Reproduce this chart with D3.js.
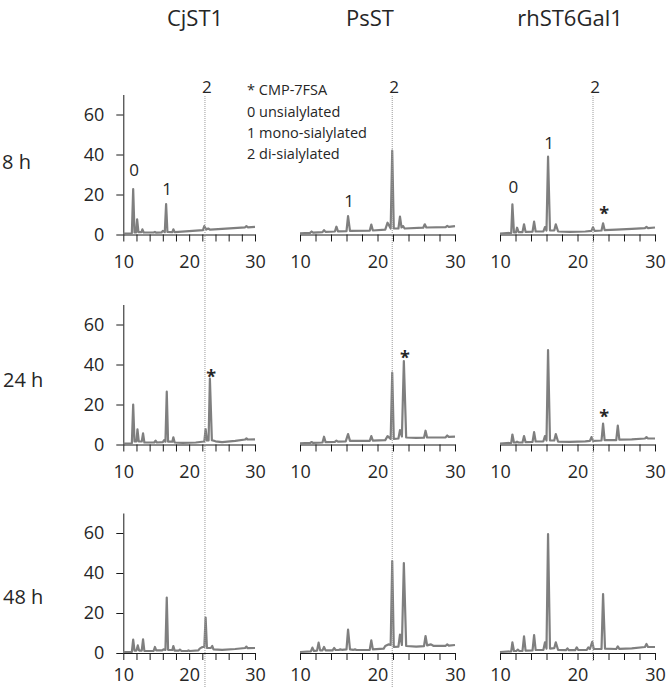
<!DOCTYPE html>
<html>
<head>
<meta charset="utf-8">
<script src="https://cdn.jsdelivr.net/npm/d3@7"></script>
<style>
  body { margin: 0; background: #fff; }
  svg { display: block; }
  text { font-family: 'Open Sans', sans-serif; fill: #262626; }
</style>
</head>
<body>
<svg id="chart" width="666" height="687"></svg>
<script>
// ---- data ----
const enzymes = ['CjST1', 'PsST', 'rhST6Gal1'];
const timepoints = ['8 h', '24 h', '48 h'];
const xTicks = [10, 12, 14, 16, 18, 20, 22, 24, 26, 28, 30];
const xLabels = [10, 20, 30];
const yTicks = [0, 20, 40, 60];
const diSialylatedTime = [22.4, 21.9, 22.0];
const legendLines = ['* CMP-7FSA', '0 unsialylated', '1 mono-sialylated', '2 di-sialylated'];

// traces: [retention time (min), signal]
const cjst1_8h = [[10,0.5],[11.3,0.6],[11.5,22.7],[11.7,1],[11.95,1],[12.1,7.6],[12.3,1.2],[12.75,1.2],[12.9,2.6],[13.1,1],[14.6,1],[14.8,1.3],[15,0.9],[15.8,1],[16.0,1.8],[16.3,1.2],[16.5,15.2],[16.7,1.3],[17.45,1.2],[17.6,2.6],[17.8,1.2],[20,1.7],[22.1,2.2],[22.3,4.2],[22.6,2.5],[22.9,3],[23.2,2.4],[25,2.8],[28.5,3.6],[28.7,4.2],[28.9,3.6],[30,3.8]];
const psst_8h = [[10,0.6],[11.3,0.8],[11.5,1.5],[11.7,0.9],[12.9,1.2],[13.1,2.2],[13.3,1.3],[14.5,1.5],[14.7,3.9],[14.9,1.6],[16.0,1.7],[16.2,9.2],[16.45,1.8],[19.0,1.9],[19.2,5],[19.4,2],[21.0,2.4],[21.3,5.9],[21.7,3],[21.9,41.9],[22.1,3],[22.7,3],[22.9,8.9],[23.1,3.5],[23.3,4.2],[23.5,3],[25.9,3.4],[26.1,5.1],[26.3,3.5],[28.8,3.7],[29,4.3],[29.2,3.8],[30,4.2]];
const rh_8h = [[10,0.5],[11.45,0.8],[11.6,15.1],[11.8,1],[12.05,1],[12.2,3.4],[12.4,1.2],[12.9,1.2],[13.1,5.1],[13.3,1.3],[14.2,1.4],[14.4,6.4],[14.6,1.5],[15.6,1.6],[15.8,3.7],[16.0,2],[16.2,38.9],[16.45,2],[17.0,2],[17.2,5.1],[17.5,1.5],[19,1.3],[21,1.5],[21.8,1.8],[22.0,3.6],[22.2,1.8],[23.1,2],[23.3,5.6],[23.5,2.2],[25,2.4],[27,2.8],[28.7,3.2],[28.9,3.8],[29.1,3.2],[30,3.5]];

const cjst1_24h = [[10,0.5],[11.3,0.6],[11.5,20],[11.7,1.5],[12,1.5],[12.15,7.6],[12.35,1.5],[12.8,1.5],[13.0,5.6],[13.2,1],[14.7,1],[14.9,1.9],[15.1,1],[16.0,1.2],[16.2,2.2],[16.4,1.4],[16.6,26.4],[16.8,1.4],[17.45,1.4],[17.6,3.6],[17.8,1],[19,0.8],[21,1],[22.3,1.5],[22.5,7.7],[22.7,2],[22.95,2],[23.15,32.9],[23.45,2.2],[24,1.6],[25,1.2],[27,1.8],[28.5,2.5],[28.7,3],[28.9,2.5],[30,2.6]];
const psst_24h = [[10,0.6],[11.3,0.8],[11.5,1.2],[11.7,0.8],[12.9,1],[13.1,3.9],[13.3,1.2],[14.5,1.3],[14.7,1.9],[14.9,1.4],[15.9,1.6],[16.2,5.2],[16.45,1.8],[19.0,1.8],[19.2,4.2],[19.4,1.9],[21.0,2.2],[21.3,4.2],[21.7,2.8],[21.9,35.9],[22.1,2.8],[22.7,3],[22.9,7.2],[23.15,4],[23.4,41.7],[23.7,3.5],[25,3.3],[26.0,3.4],[26.2,6.9],[26.4,3.5],[28.8,3.6],[29,4.5],[29.2,3.8],[30,3.9]];
const rh_24h = [[10,0.5],[11.45,0.8],[11.6,5],[11.8,1],[12.05,1],[12.2,1.4],[12.4,1],[12.9,1],[13.1,4.2],[13.3,1.2],[14.2,1.3],[14.4,6.2],[14.6,1.5],[15.6,1.6],[15.8,4.2],[16.0,2],[16.2,47.2],[16.45,2],[17.0,2],[17.2,5.2],[17.5,1.4],[19,1.3],[21,1.6],[21.6,1.8],[21.8,3.7],[22.0,1.8],[23.1,2],[23.3,10.5],[23.5,2.2],[25.0,2.2],[25.2,9.5],[25.4,2.4],[27,2.6],[28.7,3],[28.9,3.7],[29.1,3],[30,3]];

const cjst1_48h = [[10,0.5],[11.3,0.6],[11.5,6.7],[11.7,1.2],[12,1.2],[12.2,3.8],[12.4,1.2],[12.8,1.2],[13.0,6.8],[13.2,1],[14.6,1],[14.8,3],[15,1.3],[15.9,1.3],[16.1,1.8],[16.4,1.6],[16.6,27.7],[16.8,1.6],[17.45,1.5],[17.6,3.5],[17.8,1.2],[18.45,1.2],[18.6,1.7],[18.8,1.1],[19.75,1],[19.9,1.3],[20.1,1],[21.4,1.3],[21.6,2.2],[21.9,2.8],[22.1,3],[22.3,3],[22.5,17.7],[22.7,2.5],[23.3,2.5],[23.5,3.5],[23.7,1.8],[25,1.6],[27,2],[28.5,2.5],[28.7,3.2],[28.9,2.4],[30,2.5]];
const psst_48h = [[10,0.5],[11.4,0.8],[11.6,2.7],[11.8,1],[12.2,1.2],[12.4,5.2],[12.6,1.3],[12.9,1.3],[13.1,3],[13.3,1.3],[14.2,1.3],[14.4,2.5],[14.6,1.5],[15.0,1.5],[15.2,1.8],[15.4,1.6],[16.0,1.8],[16.2,11.7],[16.45,1.8],[16.9,1.6],[17.1,1.8],[17.3,1.5],[19.0,1.6],[19.2,6.3],[19.4,1.8],[20.8,2.2],[21.0,3.5],[21.4,4.3],[21.7,4],[21.9,46],[22.1,3],[22.7,3.2],[22.9,9.2],[23.15,4],[23.4,45],[23.7,3.5],[25,3.2],[26.0,3.4],[26.2,8.5],[26.4,3.8],[26.9,4.3],[27.2,3.6],[28.8,3.6],[29,4.3],[29.2,3.7],[30,4]];
const rh_48h = [[10,0.5],[11.45,0.8],[11.6,5.3],[11.8,1],[12.1,1],[12.3,1.7],[12.5,1],[12.9,1],[13.1,8.3],[13.3,1.2],[14.2,1.3],[14.4,9],[14.6,1.5],[15.6,1.6],[15.8,5.3],[16.0,2.2],[16.2,59.5],[16.45,2.2],[17.0,2.4],[17.2,5.3],[17.5,1.5],[18.5,1.4],[18.7,2.3],[18.9,1.4],[19.7,1.4],[19.9,2.8],[20.1,1.5],[21.2,1.6],[21.4,2.8],[21.6,2],[21.9,5.6],[22.1,2],[23.1,2],[23.3,29.5],[23.55,2.2],[25.0,2],[25.2,3.3],[25.4,2.1],[27,2.3],[28.7,3],[28.9,4.5],[29.1,3],[30,3]];

// rows = timepoints, columns = enzymes
const traces = [
  [cjst1_8h, psst_8h, rh_8h],
  [cjst1_24h, psst_24h, rh_24h],
  [cjst1_48h, psst_48h, rh_48h],
];

// peak annotations: label centre in data units
const peakLabels = [
  { row: 0, col: 0, t: 11.5, y: 32.2, text: '0' },
  { row: 0, col: 0, t: 16.5, y: 22.7, text: '1' },
  { row: 0, col: 1, t: 16.2, y: 16.9, text: '1' },
  { row: 0, col: 2, t: 11.6, y: 23.7, text: '0' },
  { row: 0, col: 2, t: 16.2, y: 45.7, text: '1' },
  { row: 0, col: 2, t: 23.3, y: 12.2, text: '*' },
  { row: 1, col: 0, t: 23.2, y: 35.7, text: '*' },
  { row: 1, col: 1, t: 23.4, y: 45.2, text: '*' },
  { row: 1, col: 2, t: 23.3, y: 15.7, text: '*' },
];

// ---- layout ----
const cfg = {
  colX: [[123.3, 255], [300, 455], [500, 655]],
  rowBase: [234.5, 444.5, 653],
  rowH: 140,
  tickPad: [14, 14, 8],
  titleX: [195, 370, 570],
  titleY: 26,
  rowLabelX: [2, 3, 3],
  rowLabelY: [168.5, 387, 604],
  dotTop: 96,
  dotBottom: [687, 687, 662],
  legendX: 247,
  legendY: [95, 117, 137.5, 158.5],
  traceColor: '#7f7f7f',
  axisColor: '#1a1a1a',
  tickFont: 18,
  peakFont: 17,
  starFont: 18,
};

const svg = d3.select('#chart');

// column titles
svg.selectAll('.title')
  .data(enzymes)
  .enter()
  .append('text')
  .attr('x', (d, i) => cfg.titleX[i])
  .attr('y', cfg.titleY)
  .attr('text-anchor', 'middle')
  .style('font-size', '22px')
  .text(d => d);

// row labels
svg.selectAll('.rowLabel')
  .data(timepoints)
  .enter()
  .append('text')
  .attr('x', (d, i) => cfg.rowLabelX[i])
  .attr('y', (d, i) => cfg.rowLabelY[i])
  .style('font-size', '20px')
  .text(d => d);

const line = (x, y) => d3.line().x(d => x(d[0])).y(d => y(d[1]));

const scales = [];
timepoints.forEach((tp, r) => {
  scales.push([]);
  enzymes.forEach((enz, c) => {
    const x = d3.scaleLinear().domain([10, 30]).range(cfg.colX[c]);
    const y = d3.scaleLinear().domain([0, 70])
      .range([cfg.rowBase[r], cfg.rowBase[r] - cfg.rowH]);
    scales[r].push({ x, y });

    const g = svg.append('g');

    // x axis
    const xAxis = g.append('g')
      .attr('transform', 'translate(0,' + cfg.rowBase[r] + ')')
      .call(d3.axisBottom(x)
        .tickValues(xTicks)
        .tickSizeInner(7)
        .tickSizeOuter(0)
        .tickPadding(cfg.tickPad[r])
        .tickFormat(d => (xLabels.indexOf(d) >= 0 ? d : '')));
    xAxis.selectAll('text').style('font-size', cfg.tickFont + 'px')
      .style('font-family', "'Open Sans', sans-serif").attr('fill', '#262626');
    xAxis.selectAll('line, path').attr('stroke', cfg.axisColor);

    // y axis only on first column
    if (c === 0) {
      const yAxis = g.append('g')
        .attr('transform', 'translate(' + cfg.colX[0][0] + ',0)')
        .call(d3.axisLeft(y)
          .tickValues(yTicks)
          .tickSizeInner(7)
          .tickSizeOuter(0)
          .tickPadding(12));
      yAxis.selectAll('text').style('font-size', cfg.tickFont + 'px')
        .style('font-family', "'Open Sans', sans-serif").attr('fill', '#262626');
      yAxis.selectAll('line, path').attr('stroke', cfg.axisColor);
    }

    // chromatogram trace
    g.append('path')
      .datum(traces[r][c])
      .attr('d', line(x, y))
      .attr('fill', 'none')
      .attr('stroke', cfg.traceColor)
      .attr('stroke-width', 2.2)
      .attr('stroke-linejoin', 'round');
  });
});

// dotted marker for di-sialylated product
enzymes.forEach((enz, c) => {
  const x = scales[0][c].x;
  svg.append('line')
    .attr('x1', x(diSialylatedTime[c]))
    .attr('x2', x(diSialylatedTime[c]))
    .attr('y1', cfg.dotTop)
    .attr('y2', cfg.dotBottom[c])
    .attr('stroke', '#9a9a9a')
    .attr('stroke-width', 1)
    .attr('stroke-dasharray', '1,1');

  svg.append('text')
    .attr('x', x(diSialylatedTime[c]) + 2)
    .attr('y', scales[0][c].y(73.7) + 6)
    .attr('text-anchor', 'middle')
    .style('font-size', cfg.peakFont + 'px')
    .text('2');
});

// peak labels
peakLabels.forEach(p => {
  const s = scales[p.row][p.col];
  const star = p.text === '*';
  svg.append('text')
    .attr('x', s.x(p.t) + 1)
    .attr('y', s.y(p.y) + (star ? 0.55 * cfg.starFont : 0.357 * cfg.peakFont))
    .attr('text-anchor', 'middle')
    .style('font-size', (star ? cfg.starFont : cfg.peakFont) + 'px')
    .style('font-weight', star ? 'bold' : 'normal')
    .text(p.text);
});

// legend
svg.selectAll('.legend')
  .data(legendLines)
  .enter()
  .append('text')
  .attr('x', cfg.legendX)
  .attr('y', (d, i) => cfg.legendY[i])
  .style('font-size', '14.5px')
  .text(d => d);
</script>
</body>
</html>
